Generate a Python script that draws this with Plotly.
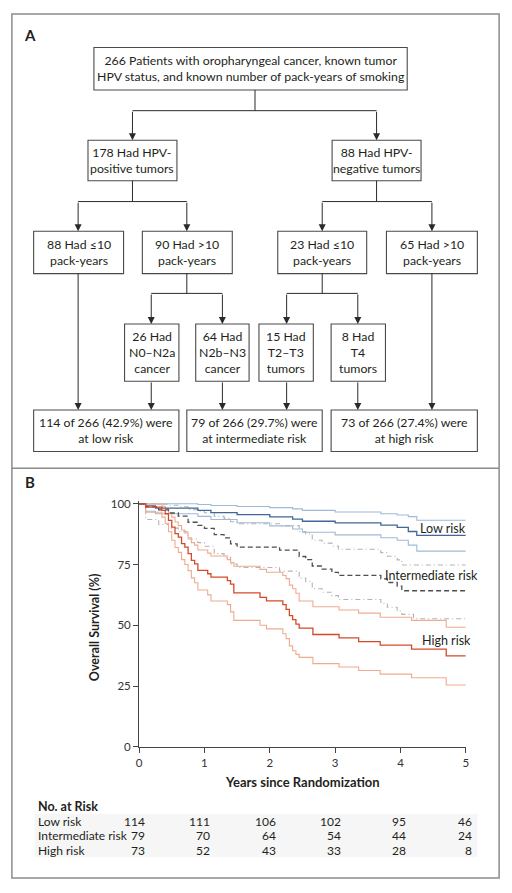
import plotly.graph_objects as go

W, H = 512, 893
FONT = "Lato, 'Open Sans', sans-serif"
TXT = "#231f20"

# ---------------- data ----------------
years = [0, 1, 2, 3, 4, 5]
surv_ticks = [0, 25, 50, 75, 100]

low_t = [0, 0.1, 0.25, 0.9, 1.1, 1.5, 2.0, 2.35, 2.5, 3.0, 3.7, 3.95, 4.12, 4.25, 5.0]
low_est = [100, 99.1, 98.2, 97.3, 96.4, 95.5, 94.6, 93.7, 92.8, 92.1, 91.2, 90.3, 88.6, 87.0, 87.0]
low_hi = [100, 100, 100, 99.7, 99.3, 98.9, 98.4, 97.9, 97.3, 96.6, 95.9, 95.4, 94.7, 93.2, 93.2]
low_lo = [100, 96.9, 95.9, 94.8, 93.5, 92.2, 90.9, 89.6, 88.3, 87.2, 86.0, 85.0, 83.0, 80.5, 80.5]

int_t = [0, 0.1, 0.3, 0.45, 0.6, 0.75, 0.9, 1.0, 1.15, 1.3, 1.4, 1.5, 2.15, 2.45, 2.55,
         2.65, 2.8, 2.95, 3.05, 3.7, 3.8, 3.95, 4.02, 4.2, 5.0]
int_est = [100, 98.7, 97.5, 96.2, 94.9, 92.4, 91.1, 89.9, 87.3, 86.0, 83.5, 82.2, 80.9, 78.3, 77.0,
           74.4, 73.1, 71.8, 70.5, 69.1, 67.6, 66.1, 64.2, 64.2, 64.2]
int_hi = [100, 100, 99.8, 99.4, 98.8, 97.6, 96.9, 96.3, 94.8, 94.0, 92.6, 91.8, 91.0, 88.6, 87.6,
          85.0, 83.8, 82.6, 81.3, 79.9, 78.4, 76.9, 74.8, 74.8, 74.8]
int_lo = [100, 93.5, 91.5, 90.0, 88.5, 85.5, 84.0, 82.5, 79.5, 78.0, 75.2, 73.8, 72.3, 69.4, 68.0,
          65.0, 63.6, 62.2, 60.6, 59.0, 57.4, 55.8, 54.5, 52.7, 52.7]

high_t = [0, 0.1, 0.35, 0.4, 0.45, 0.5, 0.55, 0.6, 0.65, 0.7, 0.75, 0.8, 0.85, 0.9, 1.05, 1.1,
          1.35, 1.4, 1.45, 1.85, 1.95, 2.2, 2.25, 2.3, 2.35, 2.4, 2.45, 2.66, 3.06, 3.36, 3.69,
          4.17, 4.7, 5.0]
high_est = [100, 98.6, 97.3, 95.9, 93.2, 90.4, 87.7, 86.3, 83.6, 82.2, 79.5, 76.7, 75.3, 72.6,
            71.2, 69.8, 68.4, 66.9, 63.3, 61.5, 60.0, 58.5, 56.5, 54.0, 52.3, 50.5, 48.8, 46.2,
            44.8, 43.3, 41.8, 40.2, 37.4, 37.4]
high_hi = [100, 99.8, 99.0, 98.0, 96.2, 94.5, 92.5, 91.0, 89.2, 88.0, 86.0, 84.0, 83.0, 81.0,
           79.7, 78.5, 77.0, 75.8, 74.3, 73.0, 71.8, 70.5, 69.2, 66.5, 65.0, 63.2, 60.0, 57.6,
           56.3, 55.0, 53.3, 52.0, 49.2, 49.2]
high_lo = [100, 96.5, 94.5, 92.0, 88.5, 85.0, 82.0, 80.0, 77.0, 75.0, 72.5, 69.5, 67.5, 64.5,
           62.5, 60.0, 58.5, 55.5, 52.0, 50.0, 48.5, 46.5, 44.5, 41.5, 39.5, 38.0, 36.8, 34.2,
           32.8, 31.4, 29.9, 28.4, 25.4, 25.4]

risk_groups = ["Low risk", "Intermediate risk", "High risk"]
at_risk_low = [114, 111, 106, 102, 95, 46]
at_risk_int = [79, 70, 64, 54, 44, 24]
at_risk_high = [73, 52, 43, 33, 28, 8]

# flowchart text
top_text = "266 Patients with oropharyngeal cancer, known tumor<br>HPV status, and known number of pack-years of smoking"
hpv_texts = ["178 Had HPV-<br>positive tumors", "88 Had HPV-<br>negative tumors"]
pack_texts = ["88 Had ≤10<br>pack-years", "90 Had >10<br>pack-years",
              "23 Had ≤10<br>pack-years", "65 Had >10<br>pack-years"]
stage_texts = ["26 Had<br>N0–N2a<br>cancer", "64 Had<br>N2b–N3<br>cancer",
               "15 Had<br>T2–T3<br>tumors", "8 Had<br>T4<br>tumors"]
result_texts = ["114 of 266 (42.9%) were<br>at low risk",
                "79 of 266 (29.7%) were<br>at intermediate risk",
                "73 of 266 (27.4%) were<br>at high risk"]


def X(px):
    return px / W


def Y(py):
    return 1 - py / H


fig = go.Figure()

LOW_D, LOW_L = "#3f6797", "#9fb9d6"
INT_D, INT_L = "#4f4f4f", "#b3b3b3"
HIGH_D, HIGH_L = "#d5492b", "#eeab8f"

curves = [
    (low_t, low_hi, LOW_L, "solid", 1.1),
    (low_t, low_lo, LOW_L, "solid", 1.1),
    (int_t, int_hi, INT_L, "5px,3px,1px,3px", 1.1),
    (int_t, int_lo, INT_L, "5px,3px,1px,3px", 1.1),
    (high_t, high_hi, HIGH_L, "solid", 1.1),
    (high_t, high_lo, HIGH_L, "solid", 1.1),
    (low_t, low_est, LOW_D, "solid", 1.3),
    (int_t, int_est, INT_D, "5px,3px", 1.3),
    (high_t, high_est, HIGH_D, "solid", 1.3),
]
for t, s, c, d, w in curves:
    fig.add_trace(go.Scatter(x=t, y=s, mode="lines", line=dict(color=c, dash=d, width=w, shape="hv"),
                             hoverinfo="skip", showlegend=False))

shapes = []
annots = []

# outer frame and separator
shapes.append(dict(type="rect", xref="paper", yref="paper", x0=X(9), x1=X(502), y0=Y(884), y1=Y(9),
                   line=dict(color="#8c8c8c", width=1.5)))
shapes.append(dict(type="line", xref="paper", yref="paper", x0=X(9), x1=X(502), y0=Y(469), y1=Y(469),
                   line=dict(color="#8c8c8c", width=1.5)))

# panel letters
annots.append(dict(text="<b>A</b>", x=X(27), y=Y(30), xref="paper", yref="paper", showarrow=False,
                   xanchor="center", yanchor="middle", font=dict(family=FONT, size=15, color=TXT)))
annots.append(dict(text="<b>B</b>", x=X(27), y=Y(483), xref="paper", yref="paper", showarrow=False,
                   xanchor="center", yanchor="middle", font=dict(family=FONT, size=15, color=TXT)))

BOX_LINE = dict(color="#4a4a4a", width=1.1)


def box(x0, x1, y0, y1, text):
    shapes.append(dict(type="rect", xref="paper", yref="paper", x0=X(x0), x1=X(x1), y0=Y(y1), y1=Y(y0),
                       line=BOX_LINE, fillcolor="white"))
    annots.append(dict(text=text, x=X((x0 + x1) / 2), y=Y((y0 + y1) / 2), xref="paper", yref="paper",
                       showarrow=False, xanchor="center", yanchor="middle", align="center",
                       font=dict(family=FONT, size=12.3, color=TXT)))


def seg(x0, y0, x1, y1):
    shapes.append(dict(type="line", xref="paper", yref="paper", x0=X(x0), x1=X(x1), y0=Y(y0), y1=Y(y1),
                       line=dict(color="#2a2a2a", width=1)))


def arrow(x, y0, y1):
    annots.append(dict(text="", x=X(x), y=Y(y1), xref="paper", yref="paper", ax=0, ay=-(y1 - y0),
                       axref="pixel", ayref="pixel", showarrow=True, arrowhead=2, arrowsize=1.4,
                       arrowwidth=1, arrowcolor="#2a2a2a", standoff=0, startstandoff=0))


box(92, 409, 43, 86, top_text)
box(86, 176, 137, 178, hpv_texts[0])
box(333, 423, 137, 178, hpv_texts[1])
for (a, b), tx in zip([(31, 122), (141, 232), (278, 368), (388, 480)], pack_texts):
    box(a, b, 229, 272, tx)
for (a, b), tx in zip([(123, 178), (195, 249), (259, 314), (332, 387)], stage_texts):
    box(a, b, 323, 381, tx)
for (a, b), tx in zip([(31, 178), (186, 323), (332, 480)], result_texts):
    box(a, b, 410, 452, tx)

seg(255, 86, 255, 107)
seg(131, 107, 378, 107)
arrow(131, 107, 137)
arrow(378, 107, 137)

seg(131, 178, 131, 199)
seg(76, 199, 186, 199)
arrow(76, 199, 229)
arrow(186, 199, 229)

seg(378, 178, 378, 199)
seg(323, 199, 434, 199)
arrow(323, 199, 229)
arrow(434, 199, 229)

seg(186, 272, 186, 292)
seg(150, 292, 222, 292)
arrow(150, 292, 323)
arrow(222, 292, 323)

seg(323, 272, 323, 292)
seg(287, 292, 359, 292)
arrow(287, 292, 323)
arrow(359, 292, 323)

arrow(76, 272, 410)
arrow(150, 381, 410)
arrow(222, 381, 410)
arrow(287, 381, 410)
arrow(359, 381, 410)
arrow(434, 272, 410)

# ---------------- panel B texts ----------------
annots.append(dict(text="<b>Overall Survival (%)</b>", x=X(92), y=Y(630), xref="paper", yref="paper",
                   showarrow=False, textangle=-90, xanchor="center", yanchor="middle",
                   font=dict(family=FONT, size=12.5, color=TXT)))
annots.append(dict(text="<b>Years since Randomization</b>", x=X(303), y=Y(787), xref="paper", yref="paper",
                   showarrow=False, xanchor="center", yanchor="middle",
                   font=dict(family=FONT, size=13, color=TXT)))
for txt, px, py in [("Low risk", 420, 530), ("Intermediate risk", 385, 578), ("High risk", 422, 643)]:
    annots.append(dict(text=txt, x=X(px), y=Y(py), xref="paper", yref="paper", showarrow=False,
                       xanchor="left", yanchor="middle", font=dict(family=FONT, size=12.5, color=TXT)))

# risk table
shapes.append(dict(type="rect", xref="paper", yref="paper", x0=X(32), x1=X(480), y0=Y(863), y1=Y(819),
                   line=dict(width=0), fillcolor="#f6f6f6", layer="below"))
annots.append(dict(text="<b>No. at Risk</b>", x=X(33), y=Y(812), xref="paper", yref="paper",
                   showarrow=False, xanchor="left", yanchor="middle",
                   font=dict(family=FONT, size=12.5, color=TXT)))
for lab, vals, py in zip(risk_groups, [at_risk_low, at_risk_int, at_risk_high], [827, 841, 856]):
    annots.append(dict(text=lab, x=X(33), y=Y(py), xref="paper", yref="paper", showarrow=False,
                       xanchor="left", yanchor="middle", font=dict(family=FONT, size=12, color=TXT)))
    for yr, v in zip(years, vals):
        annots.append(dict(text=str(v), x=yr, xref="x", y=Y(py), yref="paper", showarrow=False,
                           xanchor="right", yanchor="middle", xshift=8,
                           font=dict(family=FONT, size=12, color=TXT)))

y_top_px = 505 - 2.46 * 1.0

fig.update_layout(
    width=W, height=H,
    margin=dict(l=0, r=0, t=0, b=0),
    paper_bgcolor="white", plot_bgcolor="white",
    shapes=shapes, annotations=annots,
    xaxis=dict(domain=[X(137.7), X(468.3)], range=[0, 5], tickvals=years, ticks="outside", ticklen=5,
               tickcolor="#444", showline=True, linecolor="#444", linewidth=1, showgrid=False,
               zeroline=False, tickfont=dict(family=FONT, size=11.5, color="#333")),
    yaxis=dict(domain=[Y(751), Y(y_top_px)], range=[0, 101], tickvals=surv_ticks, ticks="outside",
               ticklen=5, tickcolor="#444", showline=True, linecolor="#444", linewidth=1,
               showgrid=False, zeroline=False, tickfont=dict(family=FONT, size=11.5, color="#333")),
    showlegend=False,
)

fig.write_html(
    "out.html",
    config={"displayModeBar": False},
    post_script="document.body.style.margin='0';document.body.style.padding='0';"
                "document.body.style.overflow='hidden';",
)
